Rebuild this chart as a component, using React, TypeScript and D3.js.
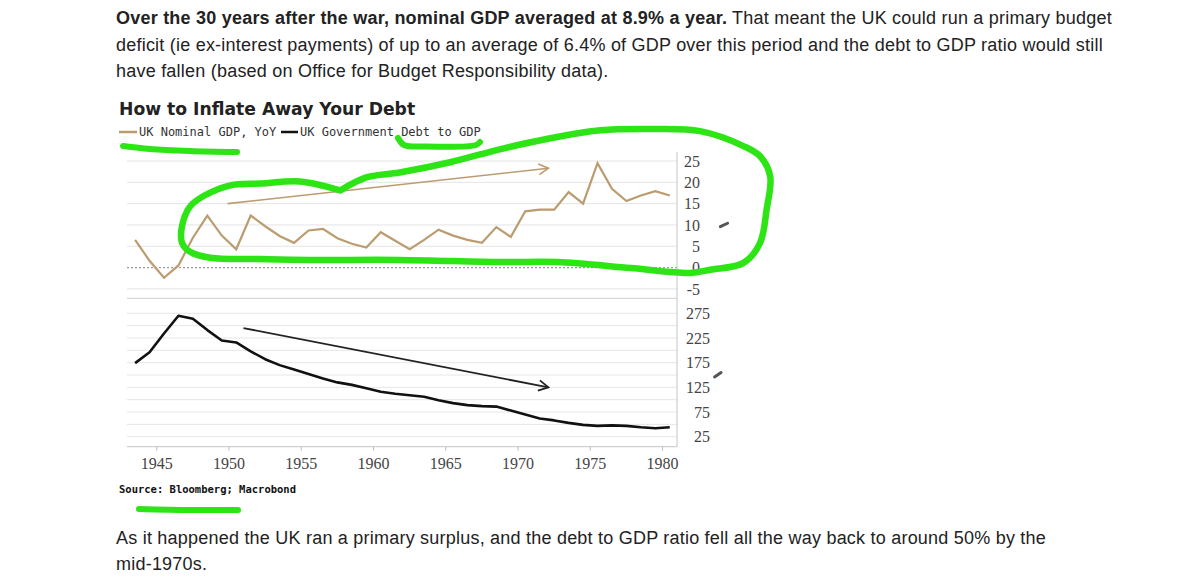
import React from 'react';
import * as d3 from 'd3';

// text around the chart (blog post)
const introBold = 'Over the 30 years after the war, nominal GDP averaged at 8.9% a year.';
const introLines = [
  ' That meant the UK could run a primary budget',
  'deficit (ie ex-interest payments) of up to an average of 6.4% of GDP over this period and the debt to GDP ratio would still',
  'have fallen (based on Office for Budget Responsibility data).',
];
const outroLines = [
  'As it happened the UK ran a primary surplus, and the debt to GDP ratio fell all the way back to around 50% by the',
  'mid-1970s.',
];

const chartTitle = 'How to Inflate Away Your Debt';
const legendItems = ['UK Nominal GDP, YoY', 'UK Government Debt to GDP'];
const sourceText = 'Source: Bloomberg; Macrobond';

// series, one value a year
const years = [
  1943, 1944, 1945, 1946, 1947, 1948, 1949, 1950, 1951, 1952, 1953, 1954, 1955,
  1956, 1957, 1958, 1959, 1960, 1961, 1962, 1963, 1964, 1965, 1966, 1967, 1968,
  1969, 1970, 1971, 1972, 1973, 1974, 1975, 1976, 1977, 1978, 1979, 1980,
];
const nominalGdpYoY = [
  6.5, 1.6, -2.4, 0.5, 7, 12.2, 7.5, 4.3, 12.2, 9.7, 7.4, 5.8, 8.7,
  9.1, 6.9, 5.6, 4.7, 8.3, 6.3, 4.3, 6.5, 8.9, 7.5, 6.5, 5.8, 9.5,
  7.2, 13.2, 13.6, 13.6, 17.7, 15, 24.5, 18.5, 15.6, 16.9, 17.9, 16.9,
];
const debtToGdp = [
  174, 196, 234, 270, 264, 241, 220, 216, 198, 182, 170, 161, 152,
  143, 135, 130, 123, 116, 112, 109, 106, 99, 93, 89, 87, 86,
  78, 70, 62, 58, 53, 49, 47, 48, 47, 44, 42, 44,
];

// axes
const yearTicks = [1945, 1950, 1955, 1960, 1965, 1970, 1975, 1980];
const gdpTicks = [25, 20, 15, 10, 5, 0, -5];
const debtTicks = [275, 225, 175, 125, 75, 25];
const debtGrid = [275, 250, 225, 200, 175, 150, 125, 100, 75, 50, 25];

// trend arrows drawn on the chart: [year, value]
const gdpArrow: [number, number][] = [[1949.9, 15.0], [1972.1, 23.3]];
const debtArrow: [number, number][] = [[1951.0, 245], [1972.1, 125]];

// hand drawn green loop round the GDP panel: [year, value]
const penLoop: [number, number][] = [
  [1957.7, 18.1], [1954.9, 20.2], [1952.2, 19.7], [1950.1, 19.3], [1948.3, 16.9],
  [1947.3, 14.3], [1946.75, 9.8], [1946.75, 5.8], [1947.3, 3.7], [1948.7, 2.3],
  [1952.2, 2.0], [1955.6, 1.8], [1961.8, 1.8], [1968.8, 1.3], [1972.7, 1.3],
  [1977.8, -0.1], [1981.9, -1.25], [1983.3, -0.5], [1985.6, 1.1], [1986.75, 5.8],
  [1987.2, 13.6], [1987.45, 21.4], [1986.75, 26.1], [1985.6, 28.5], [1982.6, 32.0],
  [1979.1, 32.5], [1975.7, 32.2], [1971.9, 30.1], [1968.8, 27.8], [1965.3, 24.7],
  [1961.8, 22.3], [1959.55, 21.2], [1957.7, 18.1],
];
// pen underlines below the legend and source text (page pixels)
const penUnderlines: [number, number][][] = [
  [[123, 146], [150, 149], [190, 151], [237, 152]],
  [[398, 138], [404, 145], [425, 146.5], [476, 145], [480, 142]],
  [[139, 509], [190, 510], [238, 510]],
];
// small dark pen ticks beside the axis labels: [year, value]
const gdpPenTick: [number, number][] = [[1984.0, 9.6], [1984.5, 10.4]];
const debtPenTick: [number, number][] = [[1983.6, 146], [1984.05, 155]];

const GOLD = '#bb9c70';
const GREEN = '#2de414';
const PARA_FONT = '"Liberation Sans", Arial, sans-serif';
const AXIS_FONT = '"Liberation Serif", serif';
const MONO = '"DejaVu Sans Mono", monospace';

function arrowHead(p0: [number, number], p1: [number, number], len = 10, ang = 0.45) {
  const a = Math.atan2(p1[1] - p0[1], p1[0] - p0[0]);
  const w1 = [p1[0] - len * Math.cos(a - ang), p1[1] - len * Math.sin(a - ang)];
  const w2 = [p1[0] - len * Math.cos(a + ang), p1[1] - len * Math.sin(a + ang)];
  return `M${w1[0]},${w1[1]}L${p1[0]},${p1[1]}L${w2[0]},${w2[1]}`;
}

export default function App() {
  const left = 127;
  const right = 677;

  const x = d3.scaleLinear().domain([1942.94, 1981.0]).range([left, right]);
  const yTop = d3.scaleLinear().domain([-5, 25]).range([288.9, 161]);
  const yBot = d3.scaleLinear().domain([25, 275]).range([436.7, 313.3]);
  const topPanelBottom = 298.3;
  const axisY = 446.7;

  // yearly values sit at mid-year
  const gdpLine = d3.line<number>()
    .x((_, i) => x(years[i] + 0.5))
    .y((d) => yTop(d));
  const debtLine = d3.line<number>()
    .x((_, i) => x(years[i] + 0.5))
    .y((d) => yBot(d));

  const topPoint = (d: [number, number]): [number, number] => [x(d[0]), yTop(d[1])];
  const botPoint = (d: [number, number]): [number, number] => [x(d[0]), yBot(d[1])];

  const loopPath = d3.line<[number, number]>()
    .x((d) => x(d[0]))
    .y((d) => yTop(d[1]))
    .curve(d3.curveCatmullRom.alpha(0.5))(penLoop) || '';
  const underline = d3.line<[number, number]>().curve(d3.curveCatmullRom);

  const ga0 = topPoint(gdpArrow[0]);
  const ga1 = topPoint(gdpArrow[1]);
  const da0 = botPoint(debtArrow[0]);
  const da1 = botPoint(debtArrow[1]);

  return (
    <svg
      width={1200}
      height={580}
      style={{ position: 'absolute', left: 0, top: 0, background: '#fff' }}
    >
      {/* intro paragraph */}
      <g fontFamily={PARA_FONT} fontSize={18} letterSpacing={0.22} fill="#222">
        <text x={116} y={24}>
          <tspan fontWeight="bold">{introBold}</tspan>
          <tspan>{introLines[0]}</tspan>
        </text>
        <text x={116} y={51}>{introLines[1]}</text>
        <text x={116} y={77}>{introLines[2]}</text>
      </g>

      {/* title and legend */}
      <text x={119} y={115} fontFamily='"DejaVu Sans", sans-serif' fontWeight="bold" fontSize={17.2} fill="#222">
        {chartTitle}
      </text>
      <g fontFamily={MONO} fontSize={12} fill="#333">
        <line x1={119} x2={137} y1={132} y2={132} stroke={GOLD} strokeWidth={2.5} />
        <text x={139} y={136}>{legendItems[0]}</text>
        <line x1={281} x2={298} y1={132} y2={132} stroke="#111" strokeWidth={2.5} />
        <text x={300} y={136}>{legendItems[1]}</text>
      </g>

      {/* top panel grid */}
      {gdpTicks.filter((t) => t !== 0).map((t) => (
        <line key={`g${t}`} x1={left} x2={right} y1={yTop(t)} y2={yTop(t)} stroke="#e4e4e4" strokeWidth={1} />
      ))}
      <line x1={left} x2={right} y1={yTop(0)} y2={yTop(0)} stroke="#9a9a9a" strokeWidth={1.2} strokeDasharray="2,2" />
      <line x1={left} x2={right} y1={topPanelBottom} y2={topPanelBottom} stroke="#cfcfcf" strokeWidth={1} />

      {/* bottom panel grid */}
      {debtGrid.map((t) => (
        <line key={`d${t}`} x1={left} x2={right} y1={yBot(t)} y2={yBot(t)} stroke="#e6e6e6" strokeWidth={1} />
      ))}
      <line x1={left} x2={right} y1={axisY} y2={axisY} stroke="#c4c4c4" strokeWidth={1} />
      <line x1={right} x2={right} y1={152} y2={axisY} stroke="#c4c4c4" strokeWidth={1} />

      {/* x axis */}
      <g fontFamily={AXIS_FONT} fontSize={16} fill="#444" textAnchor="middle">
        {yearTicks.map((t) => (
          <g key={t}>
            <line x1={x(t)} x2={x(t)} y1={axisY} y2={axisY + 4} stroke="#bbb" />
            <text x={x(t)} y={469}>{t}</text>
          </g>
        ))}
      </g>

      {/* right axes */}
      <g fontFamily={AXIS_FONT} fontSize={16} fill="#444" textAnchor="end">
        {gdpTicks.map((t) => (
          <text key={t} x={700} y={yTop(t)} dy="0.35em">{t}</text>
        ))}
        {debtTicks.map((t) => (
          <text key={t} x={710} y={yBot(t)} dy="0.35em">{t}</text>
        ))}
      </g>

      {/* series */}
      <path d={gdpLine(nominalGdpYoY) || ''} fill="none" stroke={GOLD} strokeWidth={2.2} strokeLinejoin="miter" />
      <path d={debtLine(debtToGdp) || ''} fill="none" stroke="#111" strokeWidth={2.6} strokeLinejoin="round" />

      {/* trend arrows */}
      <line x1={ga0[0]} y1={ga0[1]} x2={ga1[0]} y2={ga1[1]} stroke={GOLD} strokeWidth={1.6} />
      <path d={arrowHead(ga0, ga1, 11, 0.5)} fill="none" stroke={GOLD} strokeWidth={1.6} />
      <line x1={da0[0]} y1={da0[1]} x2={da1[0]} y2={da1[1]} stroke="#222" strokeWidth={1.8} />
      <path d={arrowHead(da0, da1, 11, 0.5)} fill="none" stroke="#222" strokeWidth={1.8} />

      {/* source */}
      <text x={119} y={493} fontFamily={MONO} fontWeight="bold" fontSize={10.5} fill="#111">
        {sourceText}
      </text>

      {/* pen annotations */}
      <path d={loopPath} fill="none" stroke={GREEN} strokeWidth={6.5} strokeLinecap="round" strokeLinejoin="round" />
      {penUnderlines.map((pts, i) => (
        <path key={i} d={underline(pts) || ''} fill="none" stroke={GREEN} strokeWidth={6} strokeLinecap="round" />
      ))}
      <line
        x1={topPoint(gdpPenTick[0])[0]} y1={topPoint(gdpPenTick[0])[1]}
        x2={topPoint(gdpPenTick[1])[0]} y2={topPoint(gdpPenTick[1])[1]}
        stroke="#555" strokeWidth={3} strokeLinecap="round"
      />
      <line
        x1={botPoint(debtPenTick[0])[0]} y1={botPoint(debtPenTick[0])[1]}
        x2={botPoint(debtPenTick[1])[0]} y2={botPoint(debtPenTick[1])[1]}
        stroke="#555" strokeWidth={3} strokeLinecap="round"
      />

      {/* closing paragraph */}
      <g fontFamily={PARA_FONT} fontSize={18} letterSpacing={0.22} fill="#222">
        <text x={116} y={544}>{outroLines[0]}</text>
        <text x={116} y={570}>{outroLines[1]}</text>
      </g>
    </svg>
  );
}
